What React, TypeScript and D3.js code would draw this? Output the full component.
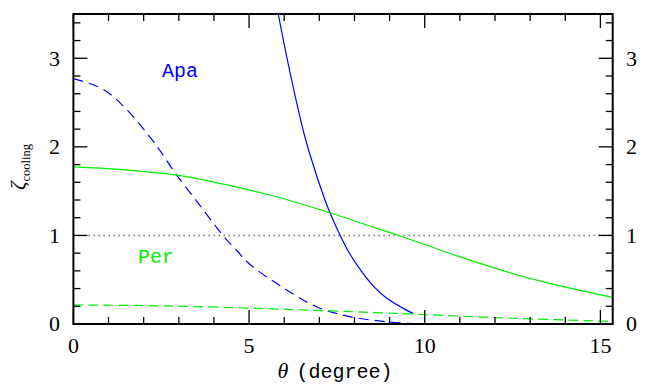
import React from "react";
import * as d3 from "d3";

// Cooling efficiency vs. angle for two configurations (Apa = blue, Per = green)
const apaSolidTheta = [5.7, 5.83, 6.47, 6.69, 7.16, 7.3, 7.57, 7.87, 8.2, 8.58, 8.92, 9.44, 9.67];
const apaSolidZeta = [3.8, 3.5, 2.3, 1.97, 1.4, 1.26, 1.02, 0.79, 0.595, 0.41, 0.29, 0.165, 0.12];

const apaDashTheta = [0, 0.85, 1.52, 2.18, 2.46, 2.94, 3.6, 4.27, 4.65, 5.02, 5.97, 6.92, 7.87, 9.01, 9.67];
const apaDashZeta = [2.77, 2.65, 2.42, 2.11, 1.96, 1.68, 1.34, 0.993, 0.83, 0.675, 0.41, 0.195, 0.083, 0.022, 0.005];

const perSolidTheta = [0, 1.33, 2.94, 4.17, 5.59, 7.3, 8.72, 9.29, 10.99, 12.99, 15.35];
const perSolidZeta = [1.775, 1.746, 1.68, 1.588, 1.456, 1.256, 1.069, 0.997, 0.76, 0.515, 0.3];

const perDashTheta = [0, 2.5, 5.22, 7.5, 9.77, 12.5, 15.35];
const perDashZeta = [0.215, 0.205, 0.177, 0.145, 0.11, 0.065, 0.028];

const xMajorTicks = [0, 5, 10, 15];
const yMajorTicks = [0, 1, 2, 3];
const referenceLevel = 1;

const W = 650;
const H = 385;
const X0 = 73.4;
const X1 = 612.7;
const Y0 = 324;
const Y1 = 14;

const BLUE = "#0000ff";
const GREEN = "#00ee00";
const NUM_FONT = "'Liberation Serif', serif";
const TT_FONT = "'Liberation Mono', monospace";

export default function App() {
  const x = d3.scaleLinear().domain([0, 15.35]).range([X0, X1]);
  const y = d3.scaleLinear().domain([0, 3.5]).range([Y0, Y1]);

  const line = d3
    .line<[number, number]>()
    .x((d) => x(d[0]))
    .y((d) => y(d[1]))
    .curve(d3.curveCatmullRom.alpha(0.5));

  const zip = (a: number[], b: number[]) => a.map((v, i) => [v, b[i]] as [number, number]);

  const xMinor = d3.range(0, 16).filter((v) => !xMajorTicks.includes(v));
  const yMinor = d3.range(0, 3.5, 0.2).map((v) => +v.toFixed(1)).filter((v) => !yMajorTicks.includes(v));

  const tickColor = "#000";
  const major = 14;
  const minor = 7;

  return (
    <svg width={W} height={H} style={{ position: "absolute", left: 0, top: 0 }}>
      <defs>
        <clipPath id="plot">
          <rect x={X0} y={Y1} width={X1 - X0} height={Y0 - Y1} />
        </clipPath>
      </defs>
      <rect width={W} height={H} fill="#fff" />

      <g clipPath="url(#plot)" fill="none" strokeWidth={1.2}>
        <line
          x1={X0}
          x2={X1}
          y1={y(referenceLevel)}
          y2={y(referenceLevel)}
          stroke="#777"
          strokeWidth={1.5}
          strokeDasharray="1.5,3.5"
        />
        <path d={line(zip(apaSolidTheta, apaSolidZeta)) || ""} stroke={BLUE} />
        <path d={line(zip(apaDashTheta, apaDashZeta)) || ""} stroke={BLUE} strokeDasharray="10,6" />
        <path d={line(zip(perSolidTheta, perSolidZeta)) || ""} stroke={GREEN} />
        <path d={line(zip(perDashTheta, perDashZeta)) || ""} stroke={GREEN} strokeDasharray="10,5" />
      </g>

      {/* ticks on all four sides */}
      <g stroke={tickColor} strokeWidth={1.3}>
        {xMajorTicks.map((v) => (
          <g key={"xm" + v}>
            <line x1={x(v)} x2={x(v)} y1={Y0} y2={Y0 - major} />
            <line x1={x(v)} x2={x(v)} y1={Y1} y2={Y1 + major} />
          </g>
        ))}
        {xMinor.map((v) => (
          <g key={"xn" + v}>
            <line x1={x(v)} x2={x(v)} y1={Y0} y2={Y0 - minor} />
            <line x1={x(v)} x2={x(v)} y1={Y1} y2={Y1 + minor} />
          </g>
        ))}
        {yMajorTicks.map((v) => (
          <g key={"ym" + v}>
            <line x1={X0} x2={X0 + major} y1={y(v)} y2={y(v)} />
            <line x1={X1} x2={X1 - major} y1={y(v)} y2={y(v)} />
          </g>
        ))}
        {yMinor.map((v) => (
          <g key={"yn" + v}>
            <line x1={X0} x2={X0 + minor} y1={y(v)} y2={y(v)} />
            <line x1={X1} x2={X1 - minor} y1={y(v)} y2={y(v)} />
          </g>
        ))}
      </g>

      <rect x={X0} y={Y1} width={X1 - X0} height={Y0 - Y1} fill="none" stroke="#000" strokeWidth={2} />

      {/* tick labels */}
      <g fontFamily={NUM_FONT} fontSize={22} fill="#000">
        {xMajorTicks.map((v) => (
          <text key={"xl" + v} x={x(v)} y={353} textAnchor="middle">
            {v}
          </text>
        ))}
        {yMajorTicks.map((v) => (
          <text key={"yl" + v} x={60} y={y(v)} dy="0.34em" textAnchor="end">
            {v}
          </text>
        ))}
        {yMajorTicks.map((v) => (
          <text key={"yr" + v} x={626} y={y(v)} dy="0.34em" textAnchor="start">
            {v}
          </text>
        ))}
      </g>

      {/* axis titles */}
      <text x={335} y={378} textAnchor="middle" fontSize={20} fill="#000">
        <tspan fontFamily={NUM_FONT} fontStyle="italic" fontSize={22}>
          θ
        </tspan>
        <tspan fontFamily={TT_FONT} dx={8}>
          (degree)
        </tspan>
      </text>
      <text transform="translate(25,167) rotate(-90)" textAnchor="middle" fill="#000" fontFamily={NUM_FONT}>
        <tspan fontStyle="italic" fontSize={21}>
          ζ
        </tspan>
        <tspan fontSize={12.5} dy={5}>
          cooling
        </tspan>
      </text>

      {/* series labels */}
      <text x={162} y={77} fontFamily={TT_FONT} fontSize={20} fill={BLUE}>
        Apa
      </text>
      <text x={138} y={263} fontFamily={TT_FONT} fontSize={20} fill={GREEN}>
        Per
      </text>
    </svg>
  );
}
